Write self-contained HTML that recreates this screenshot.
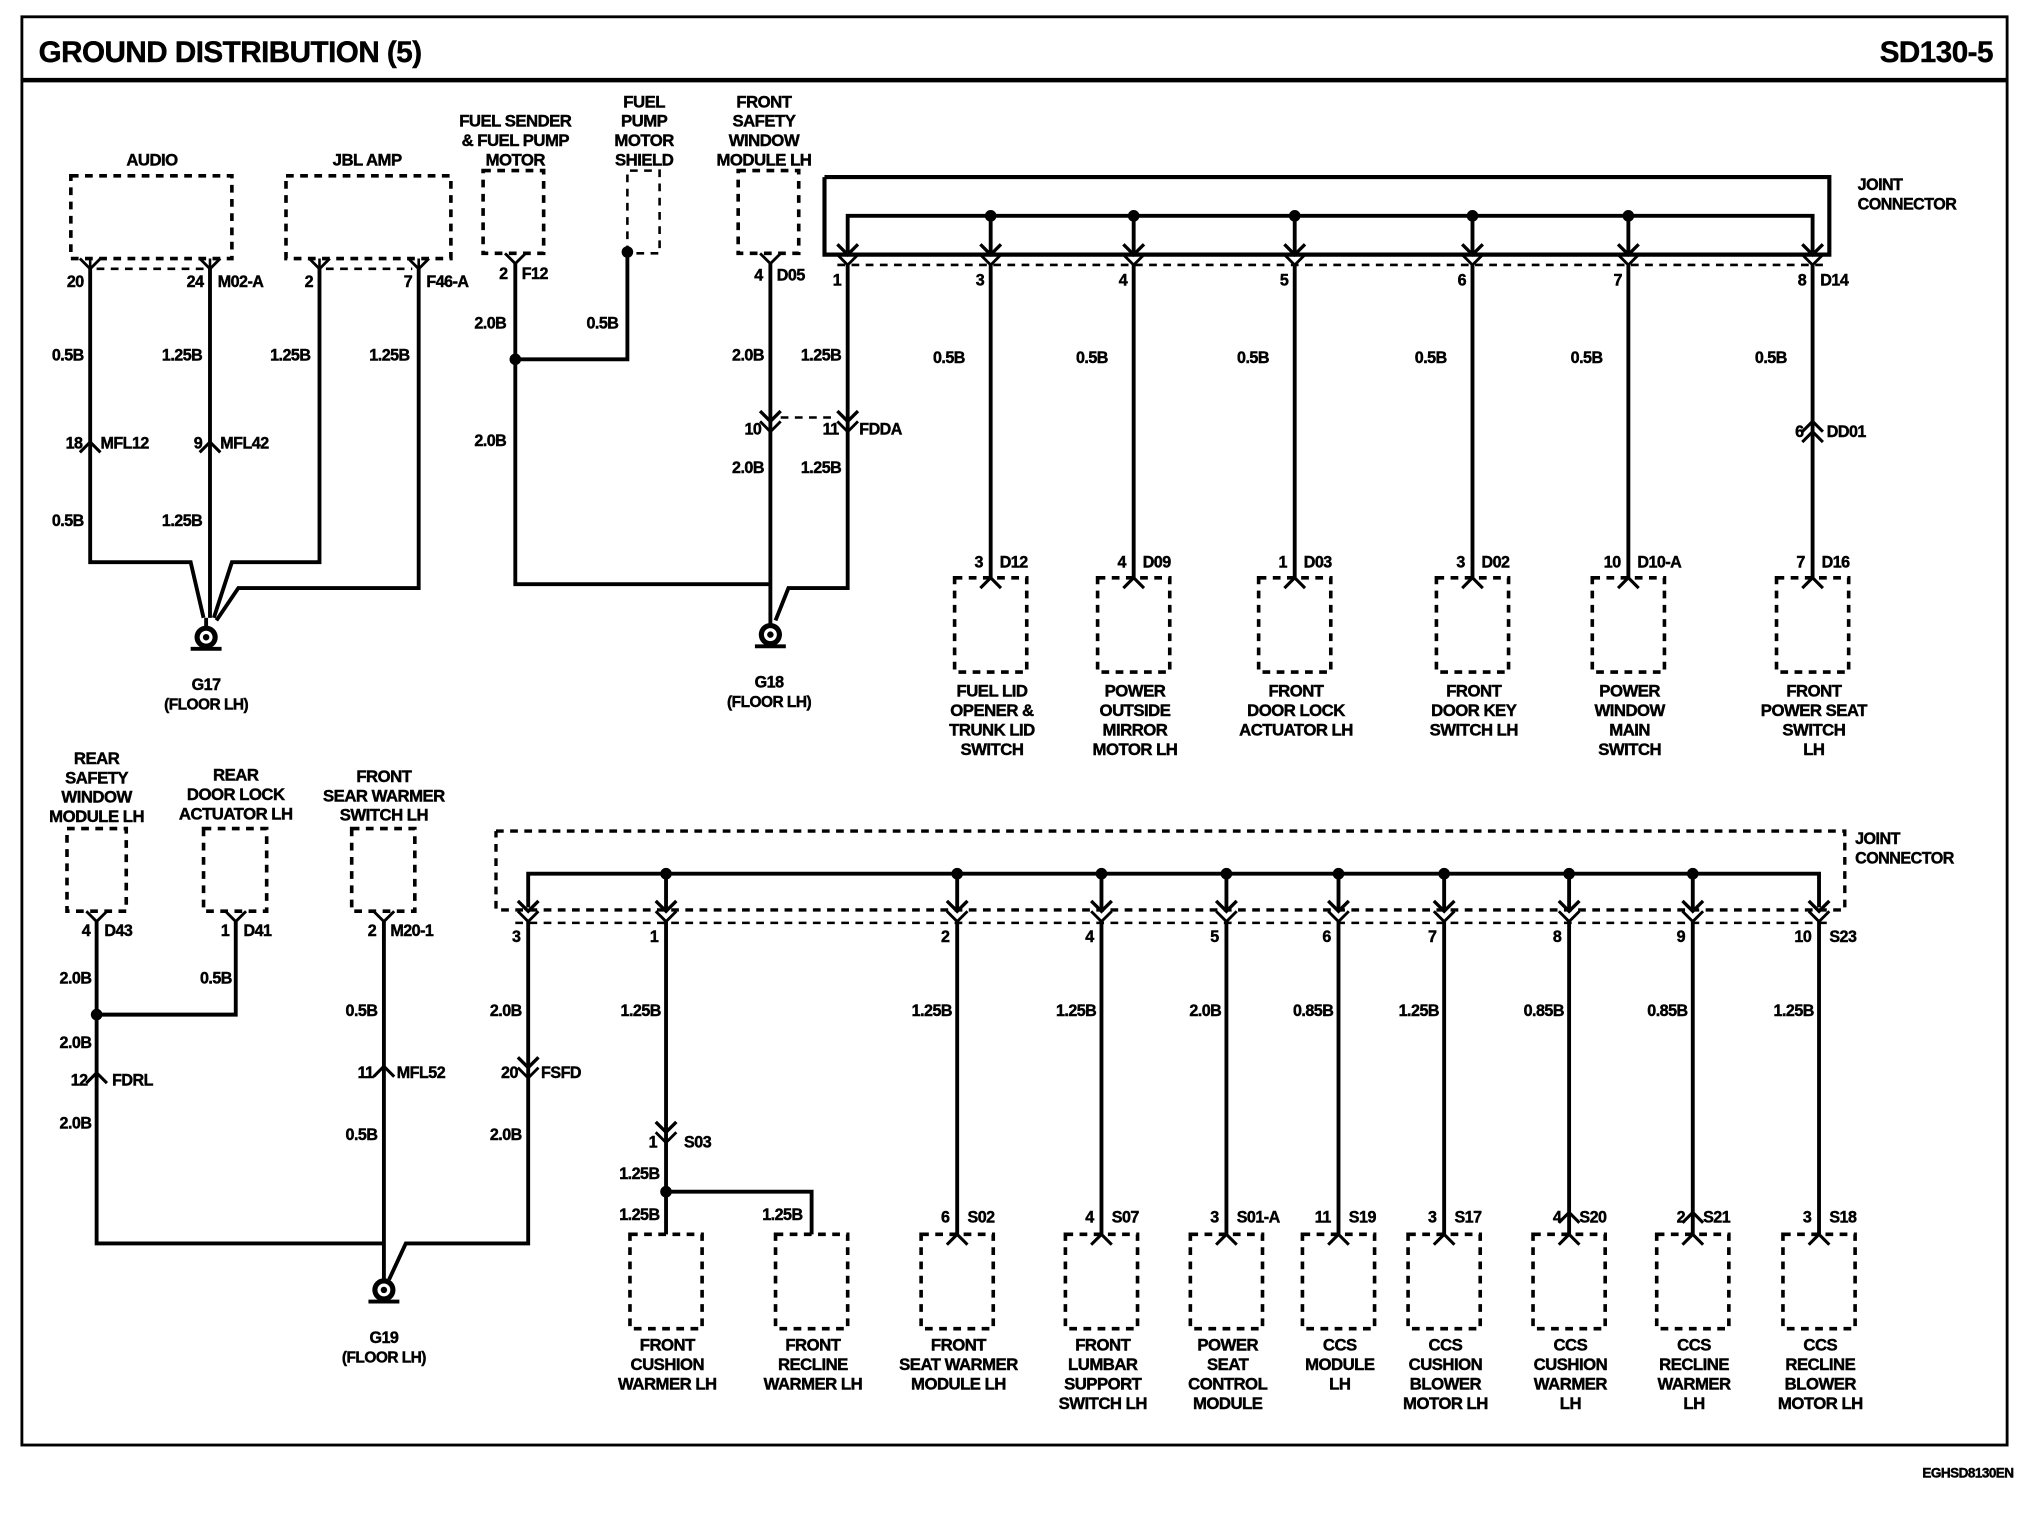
<!DOCTYPE html>
<html><head><meta charset="utf-8"><style>
html,body{margin:0;padding:0;background:#fff}
svg{display:block}
text{font-family:"Liberation Sans",sans-serif;font-weight:bold;fill:#000;stroke:#000;stroke-width:0.35}
</style></head><body>
<svg id="s" width="2020" height="1520" viewBox="0 0 1568 1176" preserveAspectRatio="none" xmlns="http://www.w3.org/2000/svg">
<rect x="0" y="0" width="1568" height="1176" fill="#fff"/>
<g id="g" fill="none" stroke="#000" stroke-width="3"></g>
<g id="t"></g>
</svg>
<script>
const G=document.getElementById('g'),T=document.getElementById('t'),NS='http://www.w3.org/2000/svg';
function el(p,n,a){const e=document.createElementNS(NS,n);for(const k in a)e.setAttribute(k,a[k]);p.appendChild(e);return e;}
function L(pts,w){el(G,'polyline',{points:pts.map(p=>p.join(',')).join(' '),'stroke-width':w||3});}
function D(pts,w){el(G,'polyline',{points:pts.map(p=>p.join(',')).join(' '),'stroke-width':w||2.6,'stroke-dasharray':'6,5'});}
function tx(x,y,s,sz,anc){const e=el(T,'text',{x:x,y:y,'font-size':sz||12.5,'text-anchor':anc||'start','letter-spacing':'-0.4'});e.textContent=s;}
function dot(x,y){el(G,'circle',{cx:x,cy:y,r:4.5,fill:'#000',stroke:'none'});}
function box(x1,y1,x2,y2){el(G,'rect',{x:x1,y:y1,width:x2-x1,height:y2-y1,'stroke-dasharray':'6,5','stroke-width':2.8});}
function V(x,y){L([[x-8,y-8],[x,y],[x+8,y-8]],2.2);}
function A(x,y){L([[x-8,y-8],[x,y],[x+8,y-8]],2.6);}
function Up(x,y){L([[x-8,y+8],[x,y],[x+8,y+8]],2.4);}
function multi(x,y,lines,sz,gap){lines.forEach((s,i)=>tx(x,y+i*(gap||15),s,sz||13,'middle'));}
function ground(x,y){el(G,'circle',{cx:x,cy:y,r:9,fill:'#000',stroke:'none'});el(G,'circle',{cx:x,cy:y,r:5,fill:'#fff',stroke:'none'});el(G,'circle',{cx:x,cy:y,r:2.5,fill:'#000',stroke:'none'});L([[x-12,y+9],[x+12,y+9]],3);}

el(G,'rect',{x:17,y:13,width:1541,height:1105,'stroke-width':2.2});
L([[17,62],[1558,62]],3.5);
tx(30,48,'GROUND DISTRIBUTION (5)',23);
tx(1547,48,'SD130-5',23,'end');
tx(1563,1143,'EGHSD8130EN',10.5,'end');

tx(118,128,'AUDIO',13,'middle');box(55,136,180,200);
tx(285,128,'JBL AMP',13,'middle');box(222,136,350,200);
D([[75,208],[158,208]],2);D([[253,208],[320,208]],2);
[[70,'20'],[163,'24'],[248,'2'],[325,'7']].forEach(([x,n])=>{V(x,208);L([[x,200],[x,208]],2);tx(x-5,222,n,12.5,'end');});
tx(169,222,'M02-A');tx(331,222,'F46-A');
L([[70,208],[70,435],[148,435],[158,478]]);
L([[163,208],[163,478]]);
L([[248,208],[248,435],[180,435],[166,478]]);
L([[325,208],[325,455],[185,455],[168,480]]);
Up(70,342);Up(163,342);
tx(64,347,'18',12.5,'end');tx(78,347,'MFL12');tx(157,347,'9',12.5,'end');tx(171,347,'MFL42');
tx(65,279,'0.5B',12.5,'end');tx(157,279,'1.25B',12.5,'end');tx(241,279,'1.25B',12.5,'end');tx(318,279,'1.25B',12.5,'end');
tx(65,407,'0.5B',12.5,'end');tx(157,407,'1.25B',12.5,'end');
L([[160,478],[160,487]]);ground(160,493);
tx(160,534,'G17',12.5,'middle');tx(160,549,'(FLOOR LH)',12,'middle');

multi(400,98,['FUEL SENDER','& FUEL PUMP','MOTOR']);box(375,132,422,196);
V(400,204);tx(394,216,'2',12.5,'end');tx(405,216,'F12');
L([[400,204],[400,452],[598,452]]);dot(400,278);L([[400,278],[487,278],[487,195]]);dot(487,195);
multi(500,83,['FUEL','PUMP','MOTOR','SHIELD']);D([[487,196],[487,132],[512,132],[512,196],[492,196]],2);
tx(393,254,'2.0B',12.5,'end');tx(480,254,'0.5B',12.5,'end');tx(393,345,'2.0B',12.5,'end');

multi(593,83,['FRONT','SAFETY','WINDOW','MODULE LH']);box(573,132,620,196);
V(598,204);tx(592,217,'4',12.5,'end');tx(603,217,'D05');
L([[598,204],[598,484]]);
A(598,326);V(598,334);D([[606,323],[650,323]],2);A(658,326);V(658,334);
tx(591,336,'10',12.5,'end');tx(651,336,'11',12.5,'end');tx(667,336,'FDDA');
tx(593,279,'2.0B',12.5,'end');tx(653,279,'1.25B',12.5,'end');tx(593,366,'2.0B',12.5,'end');tx(653,366,'1.25B',12.5,'end');
L([[658,205],[658,455],[612,455],[602,480]]);
ground(598,491);tx(597,532,'G18',12.5,'middle');tx(597,547,'(FLOOR LH)',12,'middle');

L([[640,137],[1420,137],[1420,197],[640,197],[640,137]],3.2);
L([[658,195],[658,167],[1407,167],[1407,195]]);
tx(1442,147,'JOINT');tx(1442,162,'CONNECTOR');
D([[650,205],[1415,205]],2);
const tp=[[658,'1'],[769,'3'],[880,'4'],[1005,'5'],[1143,'6'],[1264,'7'],[1407,'8']];
tp.forEach(([x,n])=>{A(x,197);V(x,205);tx(x-5,221,n,12.5,'end');if(x!=658&&x!=1407){dot(x,167);L([[x,167],[x,197]]);}});
tx(1413,221,'D14');
const tb=[[769,'3','D12',['FUEL LID','OPENER &','TRUNK LID','SWITCH']],[880,'4','D09',['POWER','OUTSIDE','MIRROR','MOTOR LH']],[1005,'1','D03',['FRONT','DOOR LOCK','ACTUATOR LH']],[1143,'3','D02',['FRONT','DOOR KEY','SWITCH LH']],[1264,'10','D10-A',['POWER','WINDOW','MAIN','SWITCH']],[1407,'7','D16',['FRONT','POWER SEAT','SWITCH','LH']]];
tb.forEach(([x,n,c,nm])=>{L([[x,205],[x,447]]);Up(x,447);tx(x-6,439,n,12.5,'end');tx(x+7,439,c);tx(x-20,281,'0.5B',12.5,'end');box(x-28,447,x+28,520);multi(x+1,539,nm);});
Up(1407,326);Up(1407,334);tx(1400,338,'6',12.5,'end');tx(1418,338,'DD01');

multi(75,591,['REAR','SAFETY','WINDOW','MODULE LH']);box(52,641,98,705);
multi(183,604,['REAR','DOOR LOCK','ACTUATOR LH']);box(158,641,207,705);
multi(298,605,['FRONT','SEAR WARMER','SWITCH LH']);box(273,641,322,705);
V(75,713);V(183,713);V(298,713);
tx(70,724,'4',12.5,'end');tx(81,724,'D43');tx(178,724,'1',12.5,'end');tx(189,724,'D41');tx(292,724,'2',12.5,'end');tx(303,724,'M20-1');
L([[75,713],[75,962],[298,962]]);dot(75,785);L([[75,785],[183,785],[183,713]]);
L([[298,713],[298,990]]);
Up(75,830);Up(298,825);
tx(68,840,'12',12.5,'end');tx(87,840,'FDRL');tx(290,834,'11',12.5,'end');tx(308,834,'MFL52');
tx(71,761,'2.0B',12.5,'end');tx(180,761,'0.5B',12.5,'end');tx(71,811,'2.0B',12.5,'end');tx(71,873,'2.0B',12.5,'end');
tx(293,786,'0.5B',12.5,'end');tx(293,882,'0.5B',12.5,'end');
L([[410,712],[410,962],[315,962],[302,990]]);
A(410,826);V(410,834);tx(402,834,'20',12.5,'end');tx(420,834,'FSFD');
tx(405,786,'2.0B',12.5,'end');tx(405,882,'2.0B',12.5,'end');
ground(298,998);tx(298,1039,'G19',12.5,'middle');tx(298,1054,'(FLOOR LH)',12,'middle');

D([[385,643],[1432,643],[1432,704],[385,704],[385,643]],2.6);
L([[410,702],[410,676],[1412,676],[1412,702]]);
tx(1440,653,'JOINT');tx(1440,668,'CONNECTOR');
D([[400,714],[1420,714]],2);
const bp=[[410,'3'],[517,'1'],[743,'2'],[855,'4'],[952,'5'],[1039,'6'],[1121,'7'],[1218,'8'],[1314,'9'],[1412,'10']];
bp.forEach(([x,n])=>{A(x,705);V(x,713);tx(x-6,729,n,12.5,'end');if(x!=410&&x!=1412){dot(x,676);L([[x,676],[x,705]]);}});
tx(1420,729,'S23');
const bw=[[517,'1.25B'],[743,'1.25B'],[855,'1.25B'],[952,'2.0B'],[1039,'0.85B'],[1121,'1.25B'],[1218,'0.85B'],[1314,'0.85B'],[1412,'1.25B']];
bw.forEach(([x,w])=>tx(x-4,786,w,12.5,'end'));
L([[517,713],[517,955]]);A(517,876);V(517,884);tx(510,888,'1',12.5,'end');tx(531,888,'S03');
dot(517,922);L([[517,922],[630,922],[630,955]]);
tx(512,912,'1.25B',12.5,'end');tx(512,944,'1.25B',12.5,'end');tx(623,944,'1.25B',12.5,'end');
const bb=[[517,null,null,['FRONT','CUSHION','WARMER LH']],[630,null,null,['FRONT','RECLINE','WARMER LH']],[743,'6','S02',['FRONT','SEAT WARMER','MODULE LH']],[855,'4','S07',['FRONT','LUMBAR','SUPPORT','SWITCH LH']],[952,'3','S01-A',['POWER','SEAT','CONTROL','MODULE']],[1039,'11','S19',['CCS','MODULE','LH']],[1121,'3','S17',['CCS','CUSHION','BLOWER','MOTOR LH']],[1218,'4','S20',['CCS','CUSHION','WARMER','LH']],[1314,'2','S21',['CCS','RECLINE','WARMER','LH']],[1412,'3','S18',['CCS','RECLINE','BLOWER','MOTOR LH']]];
bb.forEach(([x,n,c,nm])=>{box(x-28,955,x+28,1028);multi(x+1,1045,nm);if(n){if(x!=517&&x!=630)L([[x,713],[x,955]]);Up(x,955);tx(x-6,946,n,12.5,'end');tx(x+8,946,c);}});
Up(1218,938);Up(1314,938);
</script>
</body></html>
